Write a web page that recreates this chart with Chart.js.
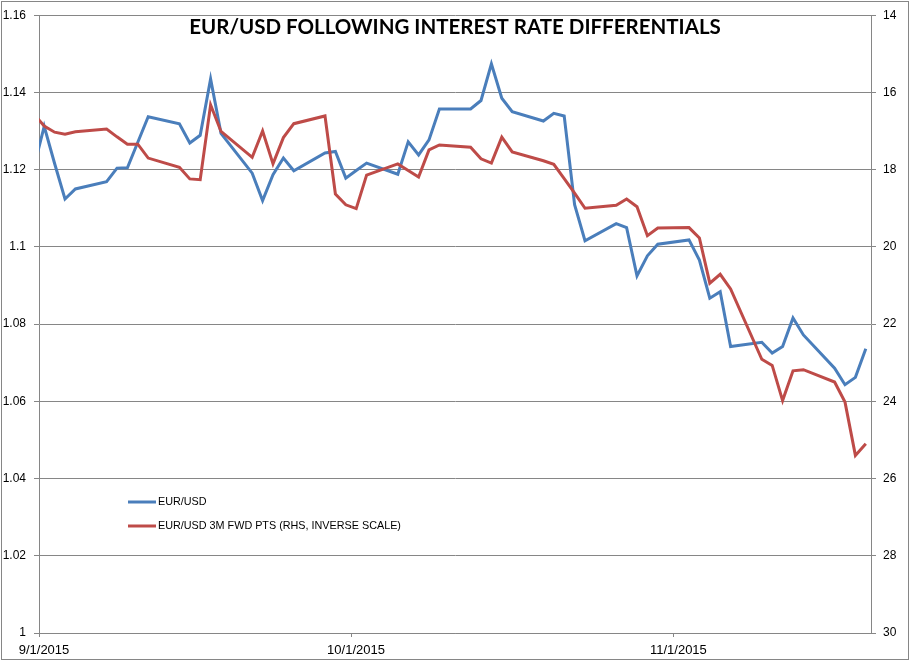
<!DOCTYPE html>
<html>
<head>
<meta charset="utf-8">
<title>EUR/USD following interest rate differentials</title>
<script src="https://cdn.jsdelivr.net/npm/chart.js@4.4.1/dist/chart.umd.min.js"></script>
<style>
  html, body { margin: 0; padding: 0; background: #fff; }
  canvas { display: block; }
</style>
</head>
<body>
<canvas id="chart" width="914" height="665"></canvas>
<script>
const chartTitle = 'EUR/USD FOLLOWING INTEREST RATE DIFFERENTIALS';

// trading days, 2015 (month/day)
const dates = [
  '8/31', '9/1', '9/2', '9/3', '9/4', '9/7', '9/8', '9/9', '9/10', '9/11',
  '9/14', '9/15', '9/16', '9/17', '9/18', '9/21', '9/22', '9/23', '9/24', '9/25',
  '9/28', '9/29', '9/30', '10/1', '10/2', '10/5', '10/6', '10/7', '10/8', '10/9',
  '10/12', '10/13', '10/14', '10/15', '10/16', '10/19', '10/20', '10/21', '10/22', '10/23',
  '10/26', '10/27', '10/28', '10/29', '10/30', '11/2', '11/3', '11/4', '11/5', '11/6',
  '11/9', '11/10', '11/11', '11/12', '11/13', '11/16', '11/17', '11/18', '11/19'
];

const eurUsd = [
  1.1205, 1.1312, 1.1216, 1.1124, 1.1150, 1.1169, 1.1204, 1.1205, 1.1271, 1.1337,
  1.1319, 1.1269, 1.1289, 1.1435, 1.1294, 1.1191, 1.1120, 1.1187, 1.1230, 1.1197,
  1.1243, 1.1247, 1.1178, 1.1198, 1.1217, 1.1188, 1.1272, 1.1238, 1.1277, 1.1357,
  1.1357, 1.1379, 1.1474, 1.1385, 1.1350, 1.1326, 1.1346, 1.1339, 1.1109, 1.1016,
  1.1060, 1.1050, 1.0925, 1.0977, 1.1007, 1.1018, 1.0966, 1.0867, 1.0884, 1.0742,
  1.0753, 1.0725, 1.0742, 1.0816, 1.0772, 1.0686, 1.0643, 1.0662, 1.0736
];

// 3M forward points, plotted on the inverted right axis
const fwdPts = [
  16.56, 16.87, 17.03, 17.08, 17.02, 16.95, 17.15, 17.34, 17.34, 17.70,
  17.94, 18.24, 18.26, 16.32, 17.01, 17.68, 17.00, 17.85, 17.17, 16.81,
  16.61, 18.63, 18.91, 19.01, 18.14, 17.85, 18.02, 18.19, 17.49, 17.36,
  17.42, 17.72, 17.83, 17.16, 17.54, 17.77, 17.86, 18.23, 18.61, 19.00,
  18.92, 18.76, 18.96, 19.71, 19.51, 19.50, 19.77, 20.94, 20.71, 21.09,
  22.91, 23.07, 23.98, 23.21, 23.18, 23.50, 24.02, 25.40, 25.10
];

const xTickDates = ['9/1', '10/1', '11/1'];
const xRange = ['9/1', '11/20'];
const leftRange = [1, 1.16, 0.02];
const rightRange = [14, 30, 2];

const GRID = '#868686';
const BLUE = '#4A7EBB';
const RED = '#BE4B48';

function dayOffset(md) {
  const [m, d] = md.split('/').map(Number);
  return (Date.UTC(2015, m - 1, d) - Date.UTC(2015, 8, 1)) / 86400000;
}

// Excel date axis puts each point in the middle of its day
const toPoints = (values) => dates.map((md, i) => ({ x: dayOffset(md) + 0.5, y: values[i] }));

const overlay = {
  id: 'overlay',
  afterDraw(chart) {
    const ctx = chart.ctx;
    ctx.save();
    ctx.strokeStyle = GRID;
    ctx.lineWidth = 1;
    ctx.strokeRect(1.5, 1.5, 907, 658);

    ctx.fillStyle = '#000';
    ctx.font = 'bold 20.5px Lato';
    ctx.textAlign = 'center';
    ctx.textBaseline = 'alphabetic';
    ctx.fillText(chartTitle, 455, 34);

    ctx.font = '10.8px "Liberation Sans"';
    ctx.textAlign = 'left';
    ctx.textBaseline = 'middle';
    chart.data.datasets.forEach((ds, i) => {
      const y = 502 + i * 24;
      ctx.strokeStyle = ds.borderColor;
      ctx.lineWidth = 3;
      ctx.beginPath();
      ctx.moveTo(128, y);
      ctx.lineTo(156, y);
      ctx.stroke();
      ctx.fillText(ds.label, 158, y);
    });
    ctx.restore();
  }
};

Chart.defaults.font.family = '"Liberation Sans", Arial, sans-serif';
Chart.defaults.color = '#000';

new Chart(document.getElementById('chart'), {
  type: 'line',
  data: {
    datasets: [
      {
        label: 'EUR/USD',
        data: toPoints(eurUsd),
        yAxisID: 'y',
        borderColor: BLUE,
        borderWidth: 3,
        pointRadius: 0,
        tension: 0,
        order: 1,
        clip: { left: 0, top: 3, right: 3, bottom: 3 }
      },
      {
        label: 'EUR/USD 3M FWD PTS (RHS, INVERSE SCALE)',
        data: toPoints(fwdPts),
        yAxisID: 'y2',
        borderColor: RED,
        borderWidth: 3,
        pointRadius: 0,
        tension: 0,
        order: 0,
        clip: { left: 0, top: 3, right: 3, bottom: 3 }
      }
    ]
  },
  options: {
    responsive: false,
    animation: false,
    devicePixelRatio: 1,
    layout: { padding: { top: 15, left: 0, right: 0, bottom: 0 } },
    plugins: { legend: { display: false }, tooltip: { enabled: false } },
    scales: {
      x: {
        type: 'linear',
        min: dayOffset(xRange[0]),
        max: dayOffset(xRange[1]),
        afterBuildTicks: (scale) => {
          scale.ticks = xTickDates.map(md => ({ value: dayOffset(md) }));
        },
        afterFit: (scale) => { scale.height = 32; },
        grid: { drawOnChartArea: false, drawTicks: true, tickLength: 4, color: GRID },
        border: { color: GRID },
        ticks: {
          autoSkip: false,
          maxRotation: 0,
          padding: 6,
          labelOffset: 5,
          font: { size: 13 },
          callback: (value, index) => xTickDates[index] + '/2015'
        }
      },
      y: {
        position: 'left',
        min: leftRange[0],
        max: leftRange[1],
        afterFit: (scale) => { scale.width = 39; },
        grid: { color: GRID, tickLength: 5 },
        border: { color: GRID },
        ticks: {
          stepSize: leftRange[2],
          padding: 8,
          font: { size: 12 },
          callback: (v) => String(Number(v.toFixed(2)))
        }
      },
      y2: {
        position: 'right',
        reverse: true,
        min: rightRange[0],
        max: rightRange[1],
        afterFit: (scale) => { scale.width = 43; },
        grid: { drawOnChartArea: false, color: GRID, tickLength: 5 },
        border: { color: GRID },
        ticks: {
          stepSize: rightRange[2],
          padding: 7,
          font: { size: 12 }
        }
      }
    }
  },
  plugins: [overlay]
});
</script>
</body>
</html>
